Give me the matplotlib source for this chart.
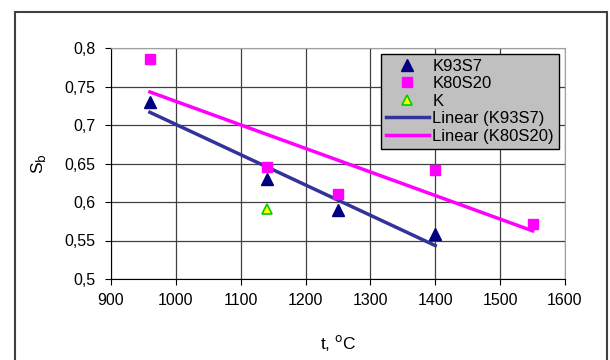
import numpy as np
import matplotlib.pyplot as plt
from matplotlib.patches import Rectangle

plt.rcParams['font.family'] = ['Liberation Sans', 'DejaVu Sans']

# data
t_k93 = [960, 1140, 1250, 1400]
sb_k93 = [0.73, 0.63, 0.59, 0.558]
t_k80 = [960, 1140, 1250, 1400, 1550]
sb_k80 = [0.786, 0.646, 0.61, 0.642, 0.572]
t_k = [1140]
sb_k = [0.591]

xticks = [900, 1000, 1100, 1200, 1300, 1400, 1500, 1600]
yticks = [0.5, 0.55, 0.6, 0.65, 0.7, 0.75, 0.8]
ylabels = ['0,5', '0,55', '0,6', '0,65', '0,7', '0,75', '0,8']

# linear trendlines (like Excel)
p93 = np.polyfit(t_k93, sb_k93, 1)
p80 = np.polyfit(t_k80, sb_k80, 1)
x93 = np.array([min(t_k93), max(t_k93)])
x80 = np.array([min(t_k80), max(t_k80)])

fig = plt.figure(figsize=(6.1, 3.6), dpi=100)
fig.patches.append(Rectangle((15/610, -0.1), 592/610, 1.1 - 12/360, transform=fig.transFigure,
                             fill=False, edgecolor='#404040', lw=1.5))
ax = fig.add_axes([111/610, 1 - 279/360, 454/610, 231/360])

ax.plot(t_k93, sb_k93, '^', color='#000080', ms=9, label='K93S7', zorder=4)
ax.plot(t_k80, sb_k80, 's', color='#ff00ff', ms=6.5, label='K80S20', zorder=4)
ax.plot(t_k, sb_k, '^', color='#ffff00', mec='#00cc00', mew=1.2, ms=6.5, label='K', zorder=4)
ax.plot(x93, np.polyval(p93, x93), '-', color='#333399', lw=2.5, label='Linear (K93S7)', zorder=3)
ax.plot(x80, np.polyval(p80, x80), '-', color='#ff00ff', lw=2.5, label='Linear (K80S20)', zorder=3)

ax.set_xlim(900, 1600)
ax.set_ylim(0.5, 0.8)
ax.set_xticks(xticks)
ax.set_yticks(yticks)
ax.set_yticklabels(ylabels)
ax.tick_params(labelsize=11.5, direction='out', length=4, color='black')
ax.tick_params(axis='y', pad=7)
ax.tick_params(axis='x', pad=6)
ax.grid(True, color='#404040', lw=0.9)
ax.set_axisbelow(True)
for s in ['top', 'right']:
    ax.spines[s].set_color('#a0a0a0')
ax.set_ylabel('S$_\\mathrm{b}$', fontsize=12.5, labelpad=12)
ax.set_xlabel('t, $^\\mathrm{o}$C', fontsize=12.5, labelpad=18)

leg = ax.legend(loc='upper right', bbox_to_anchor=(0.987, 0.975), fontsize=12,
                frameon=True, fancybox=False, facecolor='#c0c0c0', edgecolor='black',
                framealpha=1, borderpad=0.3, labelspacing=0.15, handlelength=2.6,
                handletextpad=0.2, borderaxespad=0)
leg.get_frame().set_linewidth(1.0)

fig.savefig('out.png', dpi=100)
